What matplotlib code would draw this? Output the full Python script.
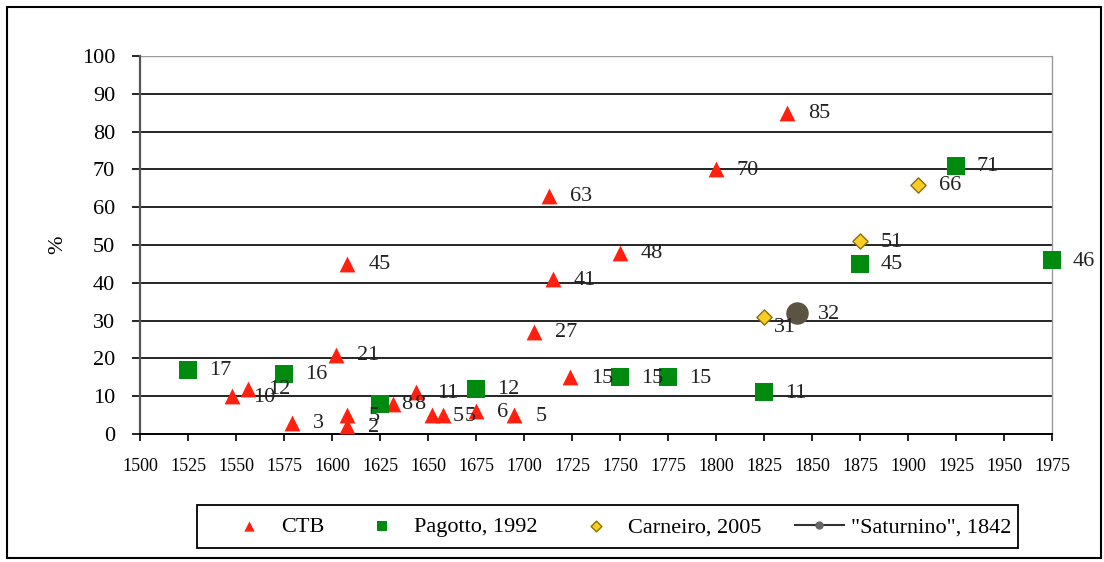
import matplotlib
matplotlib.use('Agg')
import matplotlib.pyplot as plt
from matplotlib.patches import Rectangle

# Data
ctb_year = [1548, 1556, 1579, 1602, 1608, 1608, 1608, 1632, 1644, 1652, 1658, 1675,
            1695, 1705, 1713, 1715, 1724, 1750, 1800, 1837]
ctb_pct = [10, 12, 3, 21, 45, 5, 2, 8, 11, 5, 5, 6, 5, 27, 63, 41, 15, 48, 70, 85]

pag_year = [1525, 1575, 1625, 1675, 1750, 1775, 1825, 1875, 1925, 1975]
pag_pct = [17, 16, 8, 12, 15, 15, 11, 45, 71, 46]

car_year = [1825, 1875, 1905]
car_pct = [31, 51, 66]

sat_year = [1842]
sat_pct = [32]

plt.rcParams['font.family'] = ['Liberation Serif', 'DejaVu Sans']

fig = plt.figure(figsize=[11.04, 5.62], dpi=100)
ax = fig.add_axes([140/1104, 1-434/562, (1052-140)/1104, (434-56)/562])

# Horizontal grid lines
for yv in range(10, 100, 10):
    ax.axhline(yv, color='black', lw=1.2, zorder=1)
ax.axhline(100, color='#999999', lw=1, zorder=1)

ax.scatter(ctb_year, ctb_pct, marker='^', s=130, color='#ff2010', zorder=3, linewidths=0)
ax.scatter(pag_year, pag_pct, marker='s', s=150, color='#008a10', zorder=3, linewidths=0, clip_on=False)
ax.scatter(car_year, car_pct, marker='D', s=60, color='#ffcc22', edgecolors='#8a7000', linewidths=1, zorder=4)
ax.scatter(sat_year, sat_pct, marker='o', s=230, color='#5c5443', zorder=4)

# Value labels (offsets in pixels)
def put_labels(xs, ys, dx=21, dy=-1):
    for x, y in zip(xs, ys):
        ax.annotate(str(y), (x, y), xytext=(dx * 0.72, dy * 0.72), textcoords='offset points',
                    va='center', ha='left', fontsize=16, color='#222222', zorder=5,
                    annotation_clip=False)

put_labels(ctb_year, ctb_pct)
put_labels(pag_year, pag_pct)
put_labels(car_year[1:], car_pct[1:])
put_labels(car_year[:1], car_pct[:1], dx=10, dy=-11)
put_labels(sat_year, sat_pct)

ax.set_xlim(1500, 1975)
ax.set_ylim(0, 100)
ax.set_xticks(range(1500, 1976, 25))
ax.set_yticks(range(0, 101, 10))
ax.tick_params(axis='both', color='black', width=1.2, direction='out')
ax.tick_params(axis='y', length=6, pad=12, labelsize=16)
ax.tick_params(axis='x', length=5, pad=12, labelsize=13)
ax.set_ylabel('%', fontsize=16, labelpad=10)

ax.spines['left'].set_color('#555555')
ax.spines['left'].set_linewidth(1.6)
ax.spines['bottom'].set_linewidth(1.4)
ax.spines['top'].set_visible(False)
ax.spines['right'].set_color('#999999')
ax.spines['right'].set_linewidth(1)

# Legend
h1 = ax.scatter([], [], marker='^', s=55, color='#ff2010', linewidths=0)
h2 = ax.scatter([], [], marker='s', s=45, color='#008a10', linewidths=0)
h3 = ax.scatter([], [], marker='D', s=30, color='#ffcc22', edgecolors='#8a7000', linewidths=1)
h4, = ax.plot([], [], color='#333333', marker='o', markersize=5, markerfacecolor='#666666',
              markeredgecolor='#666666', lw=1.5)
leg = fig.legend([h1, h2, h3, h4], ['CTB', 'Pagotto, 1992', 'Carneiro, 2005', '"Saturnino", 1842'],
                 loc='center', bbox_to_anchor=(618 / 1104, 1 - 527 / 562),
                 ncol=4, fontsize=16, frameon=False,
                 handlelength=2.2, columnspacing=1.5, handletextpad=0.35, borderpad=0.3)
fig.patches.append(Rectangle((197/1104, 1-548/562), 821/1104, 43/562, transform=fig.transFigure,
                             fill=False, edgecolor='black', lw=1.3))

# Outer border
fig.patches.append(Rectangle((7/1104, 4/562), 1094/1104, 551/562, transform=fig.transFigure,
                             fill=False, edgecolor='black', lw=1.5))

fig.savefig('out.png', dpi=100)
